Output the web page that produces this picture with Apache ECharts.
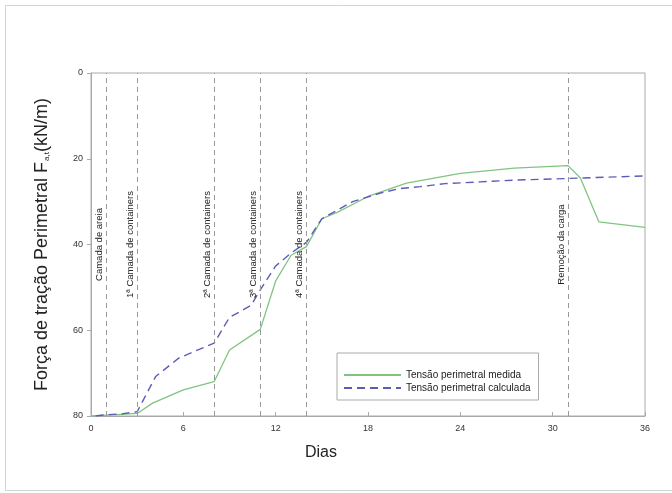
<!DOCTYPE html>
<html>
<head>
<meta charset="utf-8">
<script src="https://cdn.jsdelivr.net/npm/echarts@6/dist/echarts.min.js"></script>
<style>html,body{margin:0;padding:0;background:#fff;}#c{width:672px;height:493px;}</style>
</head>
<body>
<div id="c"></div>
<script>
var xTicks = [0, 6, 12, 18, 24, 30, 36];
var yTicks = [0, 20, 40, 60, 80];
var measuredDays = [0, 1, 2, 3, 4, 6, 8, 9, 11, 12, 13, 14, 15, 16, 18, 20.5, 24, 27.5, 31, 31.8, 33, 36];
var measuredVals = [80, 79.8, 79.6, 79.4, 77, 73.9, 72, 64.6, 59.8, 48.5, 42.5, 40.5, 34, 32.5, 28.8, 25.7, 23.4, 22.2, 21.6, 24.5, 34.7, 36];
var calcDays = [0.3, 1, 2, 3, 4.2, 5.7, 8, 9, 10.4, 11, 12, 13, 14, 15, 16, 17, 18.8, 20, 21.4, 23, 25.3, 27.4, 31, 36];
var calcVals = [80, 79.7, 79.5, 79, 70.8, 66.5, 63, 57, 54.2, 50.6, 45, 42, 39.5, 34, 32, 30, 28, 27, 26.5, 25.8, 25.4, 25, 24.6, 24];
var eventDays = [1, 3, 8, 11, 14, 31];
var eventNames = ['Camada de areia', '1ª Camada de containers', '2ª Camada de containers', '3ª Camada de containers', '4ª Camada de containers', 'Remoção da carga'];
var seriesNames = ['Tensão perimetral medida', 'Tensão perimetral calculada'];

function pairs(xs, ys) { return xs.map(function (x, i) { return [x, ys[i]]; }); }

var markData = eventDays.map(function (d, i) {
  return [{ coord: [d, 80], name: eventNames[i] }, { coord: [d, 0], name: eventNames[i] }];
});

var chart = echarts.init(document.getElementById('c'));
chart.setOption({
  animation: false,
  textStyle: { fontFamily: 'Liberation Sans, Arial, sans-serif' },
  graphic: [{
    type: 'rect', shape: { x: 5.5, y: 5.5, width: 700, height: 485 },
    style: { fill: 'none', stroke: '#d4d4d4', lineWidth: 1 }, silent: true, z: -10
  }],
  title: {
    text: 'Dias', left: 316, top: 440, textAlign: 'center',
    textStyle: { fontSize: 16, fontWeight: 'normal', color: '#222', fontFamily: 'Liberation Sans, Arial, sans-serif' }
  },
  grid: { left: 91, right: 27, top: 73, bottom: 77, show: true, borderColor: '#aaa', borderWidth: 1, backgroundColor: '#fff' },
  legend: {
    orient: 'vertical', left: 337, top: 353,
    padding: [17, 8, 7, 6], itemGap: 3, itemWidth: 57, itemHeight: 10,
    borderColor: '#aaa', borderWidth: 1,
    itemStyle: { opacity: 0 },
    textStyle: { fontSize: 10, color: '#222' },
    data: seriesNames
  },
  xAxis: {
    type: 'value', min: 0, max: 36, interval: 6,
    axisLine: { show: true, onZero: false, lineStyle: { color: '#aaa' } },
    axisTick: { show: true, inside: true, length: 4, lineStyle: { color: '#aaa' } },
    axisLabel: { fontSize: 9, color: '#333', margin: 8, customValues: xTicks },
    splitLine: { show: false }
  },
  yAxis: {
    type: 'value', min: 0, max: 80, interval: 20, inverse: true,
    name: 'Força de tração Perimetral F{s|a,t}(kN/m)',
    nameLocation: 'middle', nameGap: 40,
    nameTextStyle: { fontSize: 18, color: '#222', rich: { s: { fontSize: 8, color: '#222', padding: [9, 0, 0, 1] } } },
    axisLine: { show: true, onZero: false, lineStyle: { color: '#aaa' } },
    axisTick: { show: true, length: 4, lineStyle: { color: '#aaa' } },
    axisLabel: { fontSize: 9, color: '#333', margin: 8 },
    splitLine: { show: false }
  },
  series: [{
    name: seriesNames[0], type: 'line', symbol: 'none',
    data: pairs(measuredDays, measuredVals),
    lineStyle: { color: '#80c481', width: 1.3 },
    itemStyle: { color: '#80c481' },
    markLine: {
      silent: true, symbol: ['none', 'none'],
      lineStyle: { color: '#999', type: [5, 4], width: 1 },
      label: { show: true, position: 'insideMiddleTop', formatter: '{b}', fontSize: 9.5, color: '#222', distance: 2 },
      data: markData
    }
  }, {
    name: seriesNames[1], type: 'line', symbol: 'none',
    data: pairs(calcDays, calcVals),
    lineStyle: { color: '#5c5cb8', width: 1.4, type: [8, 5] },
    itemStyle: { color: '#5c5cb8' }
  }]
});
</script>
</body>
</html>
